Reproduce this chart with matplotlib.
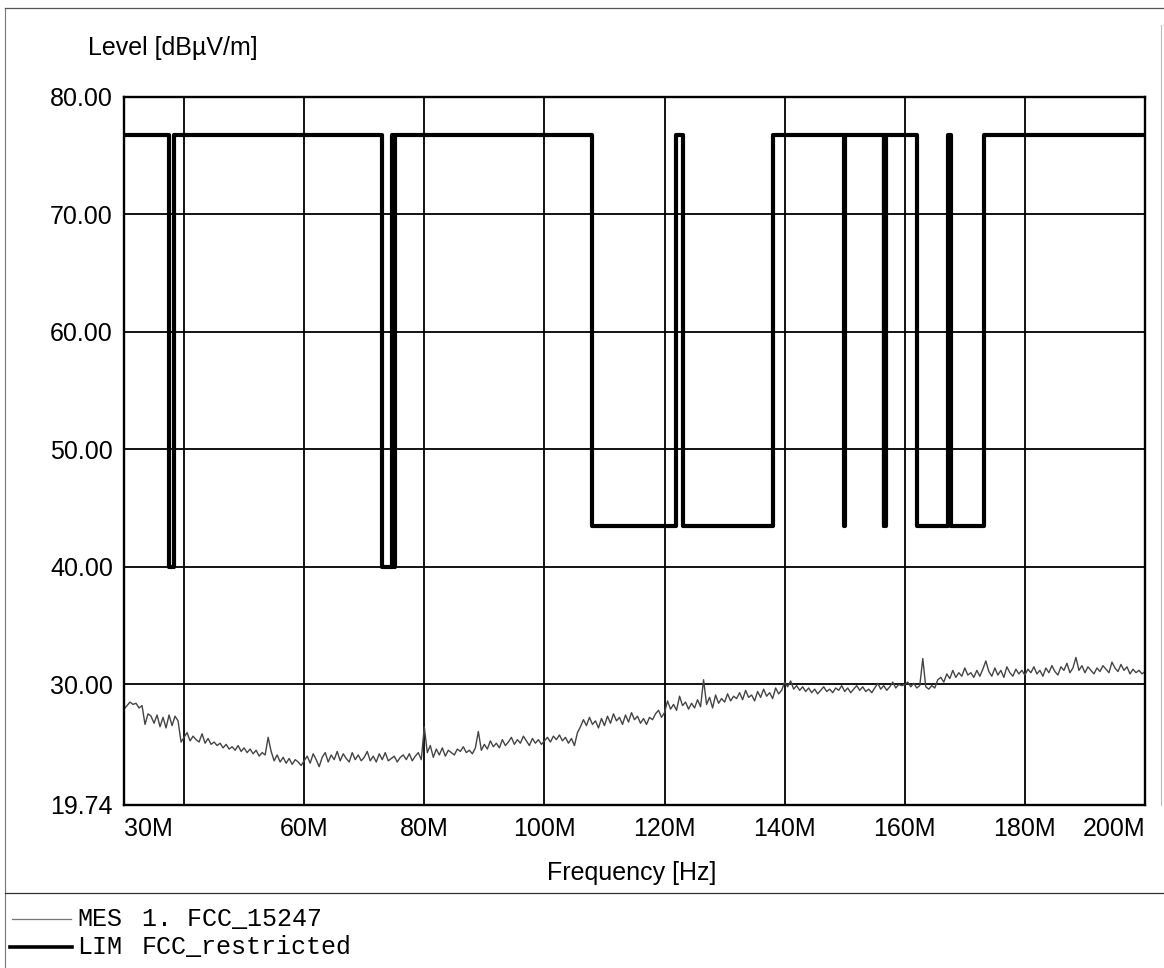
import numpy as np
import matplotlib
matplotlib.use("Agg")
import matplotlib.pyplot as plt
from matplotlib.lines import Line2D

W, H = 1164, 968

# MES trace, 30 MHz .. 200 MHz in 0.5 MHz steps (dBuV/m)
mes_start = 30.0
mes_step = 0.5
mes_level = [
    27.9, 28.2, 28.5, 28.3, 28.4, 28.0, 28.2, 26.6, 27.5, 27.3, 26.7, 27.4, 26.4, 27.2, 26.3, 27.4, 26.5, 27.3, 26.9, 25.1,
    25.5, 25.9, 25.2, 25.6, 25.3, 25.1, 25.8, 25.0, 25.4, 24.9, 25.1, 24.8, 25.0, 24.6, 24.9, 24.5, 24.7, 24.4, 24.8, 24.3,
    24.6, 24.2, 24.5, 24.1, 24.4, 23.9, 24.2, 24.0, 25.5, 24.3, 23.5, 24.0, 23.4, 23.8, 23.3, 23.7, 23.2, 23.6, 23.4, 23.1,
    23.5, 23.9, 23.3, 24.1, 23.6, 23.0, 23.8, 24.2, 23.4, 24.0, 23.6, 24.3, 23.5, 24.1, 23.7, 23.4, 24.2, 23.6, 24.0, 23.5,
    23.8, 24.3, 23.5, 23.9, 23.4, 24.1, 23.6, 24.2, 23.5, 23.7, 23.9, 23.4, 23.8, 24.0, 23.6, 24.1, 23.5, 23.9, 24.2, 23.6,
    26.4, 24.2, 24.8, 23.8, 24.5, 24.0, 24.6, 23.9, 24.4, 24.2, 24.0, 24.5, 24.3, 24.7, 24.2, 24.4, 24.1, 24.6, 26.0, 24.4,
    24.9, 24.5, 25.2, 24.7, 25.0, 24.6, 25.3, 24.8, 25.1, 25.5, 24.9, 25.3, 25.0, 25.6, 25.2, 24.8, 25.4, 25.0, 25.3, 24.9,
    25.2, 25.5, 25.1, 25.6, 25.3, 25.7, 25.2, 25.5, 25.0, 25.4, 24.8, 25.9, 26.4, 27.0, 26.5, 27.2, 26.6, 26.9, 26.3, 27.1,
    26.5, 27.3, 26.7, 27.5, 26.9, 27.2, 26.6, 27.4, 26.8, 27.6, 27.0, 27.3, 26.7, 27.1, 26.6, 27.2, 27.0, 27.5, 27.8, 27.2,
    27.6, 28.6, 27.9, 28.3, 27.8, 29.0, 28.2, 28.5, 27.9, 28.4, 28.0, 28.7, 28.1, 30.4, 28.3, 28.9, 28.0, 29.1, 28.4, 28.8,
    28.5, 29.2, 28.6, 29.0, 28.8, 29.3, 28.7, 29.5, 28.9, 29.1, 28.6, 29.4, 28.9, 29.6, 29.0, 29.3, 28.8, 29.7, 29.2, 29.5,
    30.2, 29.8, 30.3, 29.6, 29.9, 29.5, 29.8, 29.4, 29.7, 29.3, 29.6, 29.2, 29.5, 29.8, 29.4, 29.6, 29.3, 29.7, 29.5, 29.9,
    29.4, 29.7, 29.3, 29.6, 29.9, 29.5, 29.8, 29.4, 29.6, 29.3, 29.7, 30.1, 29.6, 29.9, 29.5, 29.8, 30.2, 29.7, 30.0, 29.9,
    30.0, 30.2, 29.8, 30.1, 29.7, 29.9, 32.2, 29.8, 29.6, 29.9, 29.7, 30.4, 30.6, 30.2, 30.9, 30.5, 31.2, 30.6, 31.0, 30.7,
    31.4, 30.8, 31.0, 30.6, 31.2, 30.7, 31.3, 32.0, 31.1, 30.7, 31.4, 30.8, 31.2, 30.6, 31.5, 31.0, 30.7, 31.3, 30.9, 31.2,
    30.8, 31.3, 31.0, 31.5, 30.9, 31.2, 30.7, 31.4, 31.0, 31.6, 31.1, 30.8, 31.5, 31.2, 31.8, 31.0, 31.4, 32.3, 31.2, 31.6,
    31.0, 31.5, 31.2, 30.9, 31.4, 31.1, 31.6, 31.3, 31.0, 31.9, 31.4, 31.1, 31.7, 31.2, 31.5, 30.9, 31.3, 31.0, 31.2, 30.9,
    31.1,
]

# LIM: FCC restricted bands (MHz) and their limit, high level elsewhere
lim_high = 76.8
band_lo = [37.5, 73.0, 74.8, 108.0, 123.0, 149.9, 156.52475, 156.7, 162.0125, 167.72]
band_hi = [38.25, 74.6, 75.2, 121.94, 138.0, 150.05, 156.52525, 156.9, 167.17, 173.2]
band_level = [40.0, 40.0, 40.0, 43.5, 43.5, 43.5, 43.5, 43.5, 43.5, 43.5]

x_range = (30, 200)
y_range = (19.74, 80)
y_ticks = [19.74, 30, 40, 50, 60, 70, 80]
x_ticks = [30, 60, 80, 100, 120, 140, 160, 180, 200]
x_labels = ["30M", "60M", "80M", "100M", "120M", "140M", "160M", "180M", "200M"]
x_grid = [40, 60, 80, 100, 120, 140, 160, 180]
y_grid = [30, 40, 50, 60, 70]

mes_freq = mes_start + mes_step * np.arange(len(mes_level))

lim_f = [x_range[0]]
lim_v = [lim_high]
for lo, hi, lv in zip(band_lo, band_hi, band_level):
    lim_f += [lo, lo, hi, hi]
    lim_v += [lim_high, lv, lv, lim_high]
lim_f.append(x_range[1])
lim_v.append(lim_high)

fig = plt.figure(figsize=(W / 100, H / 100), dpi=100)
ax = fig.add_axes([124 / W, 1 - 805 / H, (1145 - 124) / W, (805 - 97) / H])

sans = "Liberation Sans"
mono = "Liberation Mono"

for g in x_grid:
    ax.axvline(g, color="black", lw=1.3, zorder=1)
for g in y_grid:
    ax.axhline(g, color="black", lw=1.3, zorder=1)

ax.plot(mes_freq, mes_level, color="#444444", lw=1.0, zorder=2)
ax.plot(lim_f, lim_v, color="black", lw=3.0, zorder=3)

ax.set_xlim(*x_range)
ax.set_ylim(*y_range)
ax.set_yticks(y_ticks)
ax.set_yticklabels(["%.2f" % v for v in y_ticks], fontsize=18, family=sans)
ax.set_xticks(x_ticks)
ax.set_xticklabels(x_labels, fontsize=18, family=sans)
ax.tick_params(axis="both", length=0)
ax.tick_params(axis="y", pad=8)
ax.tick_params(axis="x", pad=9)
tl = ax.get_xticklabels()
tl[0].set_ha("left")
tl[-1].set_ha("right")
for s in ax.spines.values():
    s.set_linewidth(1.7)
    s.set_zorder(4)

fig.text(88 / W, 1 - 48 / H, "Level [dBµV/m]", fontsize=18, family=sans,
         ha="left", va="center")
fig.text(632 / W, 1 - 873 / H, "Frequency [Hz]", fontsize=18, family=sans,
         ha="center", va="center")

def fline(xs, ys, **kw):
    fig.add_artist(Line2D([x / W for x in xs], [1 - y / H for y in ys],
                          transform=fig.transFigure, **kw))

# page frame and legend separator
fline([5, 5], [8, 968], color="#777777", lw=0.8)
fline([5, 1164], [8, 8], color="#555555", lw=0.9)
fline([1161, 1161], [25, 805], color="#bbbbbb", lw=0.8)
fline([5, 1164], [893, 893], color="#333333", lw=0.9)

# legend
fline([12, 71], [919, 919], color="#777777", lw=0.9)
fline([10, 72], [947, 947], color="black", lw=2.6)
fig.text(77 / W, 1 - 919 / H, "MES", fontsize=18, family=mono, va="center")
fig.text(142 / W, 1 - 919 / H, "1. FCC_15247", fontsize=18, family=mono, va="center")
fig.text(77 / W, 1 - 947 / H, "LIM", fontsize=18, family=mono, va="center")
fig.text(142 / W, 1 - 947 / H, "FCC_restricted", fontsize=18, family=mono, va="center")

fig.savefig("out.png", dpi=100)
